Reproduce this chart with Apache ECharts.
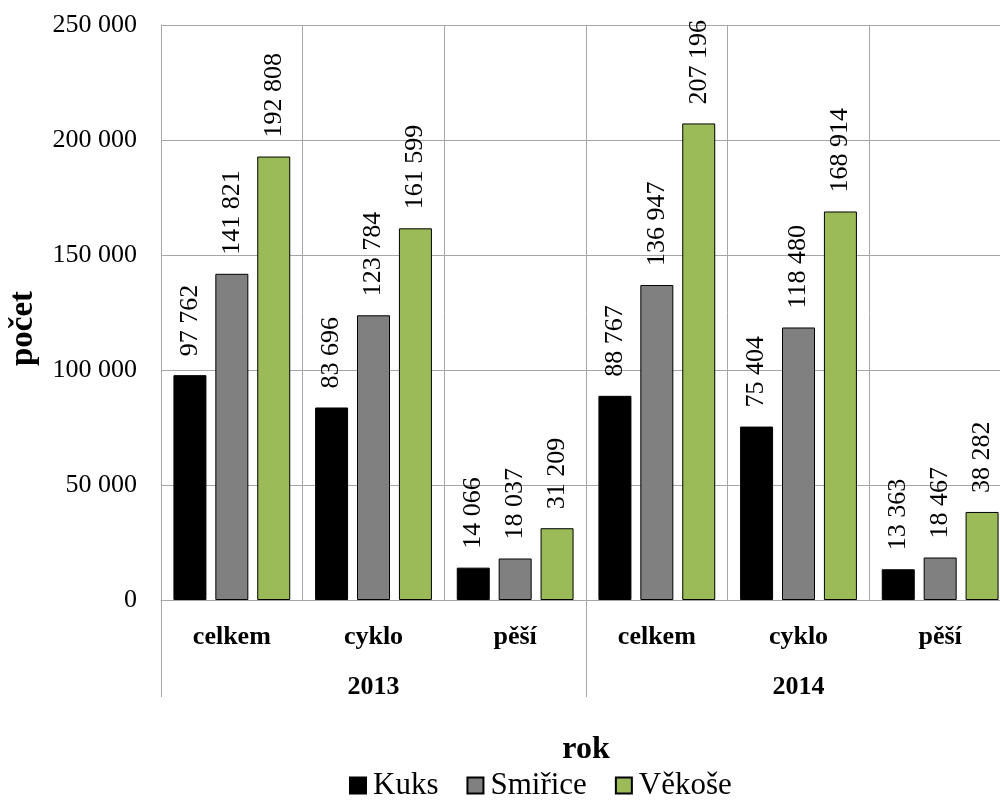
<!DOCTYPE html>
<html><head><meta charset="utf-8">
<script src="https://cdn.jsdelivr.net/npm/echarts@6/dist/echarts.min.js"></script>
<style>html,body{margin:0;padding:0;background:#fff}#c{width:1000px;height:806px}</style>
</head><body><div id="c"></div>
<script>
const categories = ['celkem','cyklo','pěší','celkem','cyklo','pěší'];
const years = ['2013','2014'];
const kuks = [97762, 83696, 14066, 88767, 75404, 13363];
const smirice = [141821, 123784, 18037, 136947, 118480, 18467];
const vekose = [192808, 161599, 31209, 207196, 168914, 38282];
const seriesNames = ['Kuks','Smiřice','Věkoše'];
const yTicks = {min:0, max:250000, interval:50000};

const FONT = "'Liberation Serif','Times New Roman',serif";
const GRID = '#a6a6a6';
const fmt = v => String(v).replace(/\B(?=(\d{3})+(?!\d))/g, ' ');
const colors = ['#000000','#808080','#9bbb59'];

const chart = echarts.init(document.getElementById('c'), null, {renderer:'canvas'});
function mk(name, data, i){
  return {
    name, type:'bar', data, xAxisIndex:0, yAxisIndex:0,
    barWidth:33, barGap:'27%',
    itemStyle:{color:colors[i], borderColor:'#000', borderWidth:1},
    label:{show:true, position:'top', rotate:90, align:'left', verticalAlign:'middle',
      distance:19, fontFamily:FONT, fontSize:26, color:'#000',
      formatter:p=>fmt(p.value)},
    animation:false
  };
}
chart.setOption({
  animation:false,
  textStyle:{fontFamily:FONT},
  grid:{left:161, top:25, right:-11, bottom:206, containLabel:false, outerBoundsMode:'none'},
  legend:{
    data:seriesNames, top:770, left:349, padding:0, icon:'rect',
    itemWidth:16, itemHeight:16, itemGap:28,
    textStyle:{fontFamily:FONT, fontSize:31, color:'#000', padding:[0,0,0,2]}
  },
  xAxis:[
    {type:'category', data:categories, position:'bottom',
     axisLine:{show:true, lineStyle:{color:GRID, width:1}},
     axisTick:{show:false},
     axisLabel:{margin:24, fontFamily:FONT, fontSize:26, fontWeight:'bold', color:'#000'},
     splitLine:{show:true, lineStyle:{color:GRID, width:1}}},
    {type:'category', data:years, position:'bottom',
     axisLine:{show:false},
     axisTick:{show:true, length:97, lineStyle:{color:GRID, width:1}},
     axisLabel:{margin:74, fontFamily:FONT, fontSize:26, fontWeight:'bold', color:'#000'},
     splitLine:{show:false},
     name:'rok', nameLocation:'middle', nameGap:134,
     nameTextStyle:{fontFamily:FONT, fontSize:32, fontWeight:'bold', color:'#000'}}
  ],
  yAxis:{type:'value', min:yTicks.min, max:yTicks.max, interval:yTicks.interval,
    axisLine:{show:true, lineStyle:{color:GRID, width:1}},
    axisTick:{show:false},
    axisLabel:{margin:24, fontFamily:FONT, fontSize:26, color:'#000', formatter:fmt},
    splitLine:{show:true, lineStyle:{color:GRID, width:1}},
    name:'počet', nameLocation:'middle', nameGap:121, nameRotate:90,
    nameTextStyle:{fontFamily:FONT, fontSize:33, fontWeight:'bold', color:'#000', padding:[0,32,0,0]}},
  series:[mk(seriesNames[0],kuks,0), mk(seriesNames[1],smirice,1), mk(seriesNames[2],vekose,2)]
});
</script></body></html>
